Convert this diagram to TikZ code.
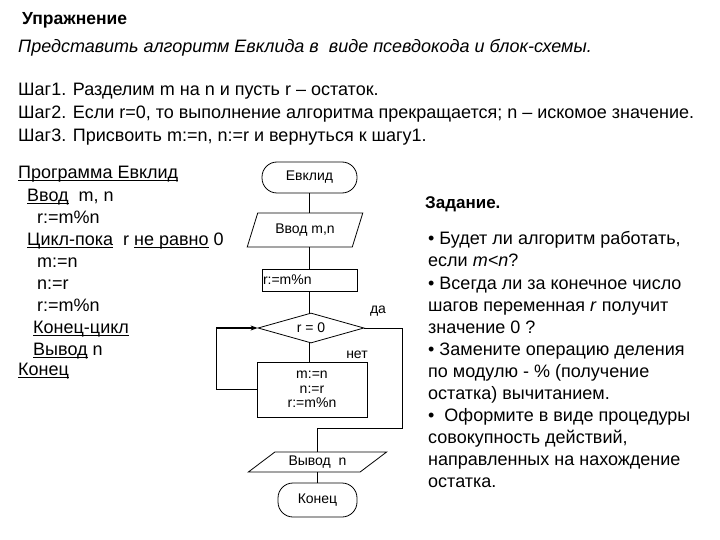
\documentclass[tikz,border=0pt]{standalone}
\usepackage{fontspec}
\setmainfont{Liberation Sans}
\usetikzlibrary{shapes.geometric,arrows.meta}
\newcommand\uline[1]{\underline{\smash{#1}}}
\begin{document}
\begin{tikzpicture}[x=1pt,y=-1pt,
  line/.style={line width=0.8pt},
  txt/.style={anchor=mid west,inner sep=0pt,font=\fontsize{18}{22}\selectfont},
  small/.style={inner sep=0pt,font=\fontsize{14}{14.5}\selectfont},
  term/.style={draw,line width=0.8pt,rectangle,rounded corners=15pt,inner sep=0pt,font=\fontsize{14}{14.5}\selectfont},
  procbox/.style={draw,line width=0.8pt,rectangle,inner sep=0pt,font=\fontsize{14}{14.5}\selectfont},
  iobox/.style={draw,line width=0.8pt,trapezium,trapezium stretches=true,inner sep=0pt,font=\fontsize{14}{14.5}\selectfont},
  decbox/.style={draw,line width=0.8pt,diamond,inner sep=0pt,font=\fontsize{14}{14.5}\selectfont}
]
\useasboundingbox (0,0) rectangle (720,540);
\fill[white] (0,0) rectangle (720,540);

% heading
\node[txt,font=\bfseries\fontsize{17.5}{20}\selectfont] (h1) at (22,22) {Упражнение};
\node[txt,font=\itshape\fontsize{18}{22}\selectfont] (h2) at (18,50) {Представить алгоритм Евклида в\ \ виде псевдокода и блок-схемы.};
\node[txt] (s1) at (18,93) {Шаг1. Разделим m на n и пусть r – остаток.};
\node[txt] (s2) at (18,116) {Шаг2. Если r=0, то выполнение алгоритма прекращается; n – искомое значение.};
\node[txt] (s3) at (18,139) {Шаг3. Присвоить m:=n, n:=r и вернуться к шагу1.};

% pseudocode
\node[txt] (p1) at (18,176) {\uline{Программа Евклид}};
\node[txt] (p2) at (27,199) {\uline{Ввод}\ \ m, n};
\node[txt] (p3) at (37,221) {r:=m\%n};
\node[txt] (p4) at (27,243) {\uline{Цикл-пока}\ \ r \uline{не равно} 0};
\node[txt] (p5) at (37,265) {m:=n};
\node[txt] (p6) at (37,287) {n:=r};
\node[txt] (p7) at (37,309) {r:=m\%n};
\node[txt] (p8) at (33,331) {\uline{Конец-цикл}};
\node[txt] (p9) at (33,353) {\uline{Вывод} n};
\node[txt] (p10) at (18,373) {\uline{Конец}};

% flowchart
\node[term,minimum width=95,minimum height=31] (start) at (309.5,177.5) {Евклид};
\node[iobox,trapezium left angle=62,trapezium right angle=118,minimum width=116,minimum height=34] (inp) at (305,230) {Ввод m,n};
\node[procbox,minimum width=95,minimum height=22] (proc) at (309.5,280) {\makebox[93pt][l]{r:=m\%n}};
\node[decbox,aspect=3.53,minimum width=106,minimum height=30] (cond) at (311,328) {r = 0};
\node[procbox,minimum width=110,minimum height=55,align=center] (body) at (312,389.5) {m:=n\\n:=r\\r:=m\%n};
\node[iobox,trapezium left angle=34.6,trapezium right angle=145.4,minimum width=139,minimum height=20] (out) at (317.5,462) {Вывод\ \ n};
\node[term,minimum width=79,minimum height=34] (end) at (317.5,500) {Конец};
\node[small] (yes) at (378,311) {да};
\node[small] (no) at (357,355) {нет};

\coordinate (bendR) at (402,428);
\coordinate (bendL) at (216,328);

\draw[line] (start.south) -- (start.south |- inp.north);
\draw[line] (start.south |- inp.south) -- (start.south |- proc.north);
\draw[line] (start.south |- proc.south) -- (start.south |- cond.north);
\draw[line] (start.south |- cond.south) -- (start.south |- body.north);
\draw[line] (cond.east) -| (bendR) -| (out.north);
\draw[line] (body.west) -| (bendL);
\draw[line width=1.5pt,-{Stealth[length=7pt,width=5pt]}] (bendL) -- (cond.west);
\draw[line] (out.south) -- (out.south |- end.north);

% task
\node[txt,font=\bfseries\fontsize{17}{22}\selectfont] (t0) at (425,206) {Задание.};
\node[txt] (t1) at (428,242) {• Будет ли алгоритм работать,};
\node[txt] (t2) at (428,264) {если \textit{m<n}?};
\node[txt] (t3) at (428,287) {• Всегда ли за конечное число};
\node[txt] (t4) at (428,309) {шагов переменная \textit{r} получит};
\node[txt] (t5) at (428,331) {значение 0 ?};
\node[txt] (t6) at (428,353) {• Замените операцию деления};
\node[txt] (t7) at (428,375) {по модулю - \% (получение};
\node[txt] (t8) at (428,397) {остатка) вычитанием.};
\node[txt] (t9) at (428,419) {•\ \ Оформите в виде процедуры};
\node[txt] (t10) at (428,441) {совокупность действий,};
\node[txt] (t11) at (428,463) {направленных на нахождение};
\node[txt] (t12) at (428,485) {остатка.};
\end{tikzpicture}
\end{document}
